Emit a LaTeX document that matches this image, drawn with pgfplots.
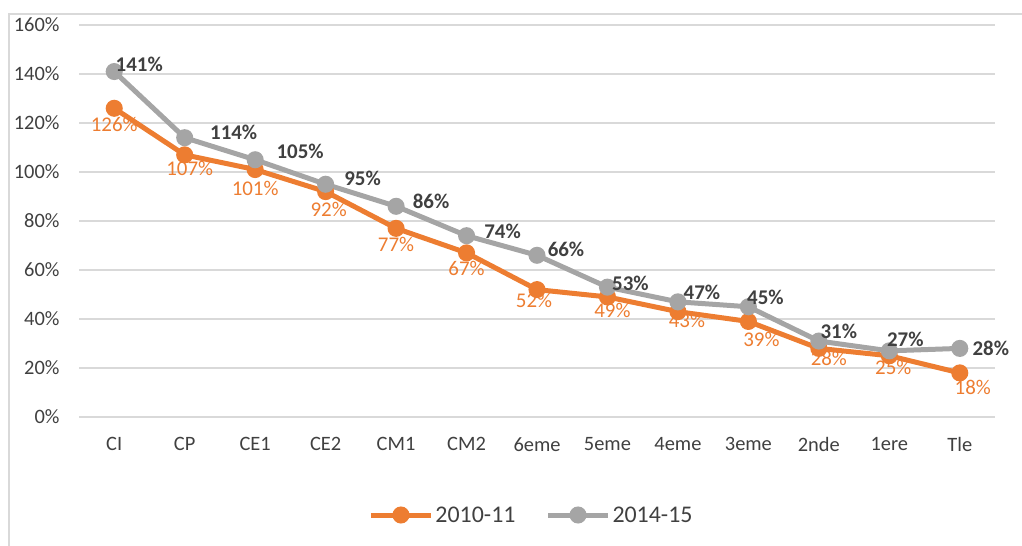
\documentclass[border=0pt]{standalone}
\usepackage{pgfplots}
\pgfplotsset{compat=1.18}
\usepackage{pgfplotstable}
\usepackage{fontspec}
\setmainfont{Carlito}

\definecolor{orangeS}{HTML}{ED7D31}
\definecolor{grayS}{HTML}{A5A5A5}
\definecolor{labgray}{HTML}{404040}
\definecolor{gridc}{HTML}{D9D9D9}

% x = category index, y = value in %, dx/dy = label offset from the point (bp)
\pgfplotstableread{
x y dx dy
0 126 0 -16
1 107 5 -14
2 101 0 -19
3 92 3 -18
4 77 0 -16
5 67 0 -16
6 52 -3 -11
7 49 5 -14
8 43 9 -9
9 39 13 -18
10 28 10 -10
11 25 4 -12
12 18 13 -15
}\orange

\pgfplotstableread{
x y dx dy
0 141 25 7
1 114 49 5
2 105 45 8
3 95 37 6
4 86 35 5
5 74 36 4
6 66 29 6
7 53 23 4
8 47 24 9
9 45 17 9
10 31 20 10
11 27 16 11
12 28 31 0
}\grayt

\begin{document}
\begin{tikzpicture}
\useasboundingbox (0,0) rectangle (1022bp,546bp);
\draw[gridc, line width=1.5bp] (9bp,0) -- (9bp,532bp) -- (1022bp,532bp);
\begin{axis}[
    at={(79bp,129bp)}, anchor=south west,
    scale only axis,
    width=916bp, height=392bp,
    xmin=-0.5, xmax=12.5,
    ymin=0, ymax=160,
    clip=false,
    axis line style={draw=none},
    major tick length=0pt,
    xtick={0,...,12},
    xticklabels={CI,CP,CE1,CE2,CM1,CM2,6eme,5eme,4eme,3eme,2nde,1ere,Tle},
    ytick={0,20,...,160},
    yticklabel={\pgfmathprintnumber{\tick}\%},
    /pgf/number format/assume math mode=true,
    ymajorgrids,
    grid style={gridc, line width=1.5bp},
    tick label style={font=\fontsize{20.5}{24}\selectfont, text=labgray},
    xticklabel style={yshift=-17bp},
    yticklabel style={xshift=-16bp},
    legend columns=2,
    legend style={at={(0.494,-0.25)}, anchor=center, draw=none, fill=none,
        font=\fontsize{24}{28}\selectfont, text=labgray,
        /tikz/every even column/.append style={column sep=28bp}},
    legend image code/.code={%
        \draw[mark repeat=2,mark phase=2] plot coordinates {(0bp,0bp) (30bp,0bp) (60bp,0bp)};},
    visualization depends on={\thisrow{dx}\as\dx},
    visualization depends on={\thisrow{dy}\as\dy},
    nodes near coords={\pgfmathprintnumber{\pgfplotspointmeta}\%},
]
\addplot[orangeS, line width=5bp, mark=*, mark size=6bp,
    mark options={solid, fill=orangeS, draw=none},
    every node near coord/.append style={anchor=center, xshift=\dx bp, yshift=\dy bp,
        text=orangeS, font=\fontsize{21}{25}\selectfont}]
    table[x=x, y=y] {\orange};
\addplot[grayS, line width=5bp, mark=*, mark size=6bp,
    mark options={solid, fill=grayS, draw=none},
    every node near coord/.append style={anchor=center, xshift=\dx bp, yshift=\dy bp,
        text=labgray, font=\fontsize{21}{25}\selectfont\bfseries}]
    table[x=x, y=y] {\grayt};
\legend{2010-11, 2014-15}
\end{axis}
\end{tikzpicture}
\end{document}
